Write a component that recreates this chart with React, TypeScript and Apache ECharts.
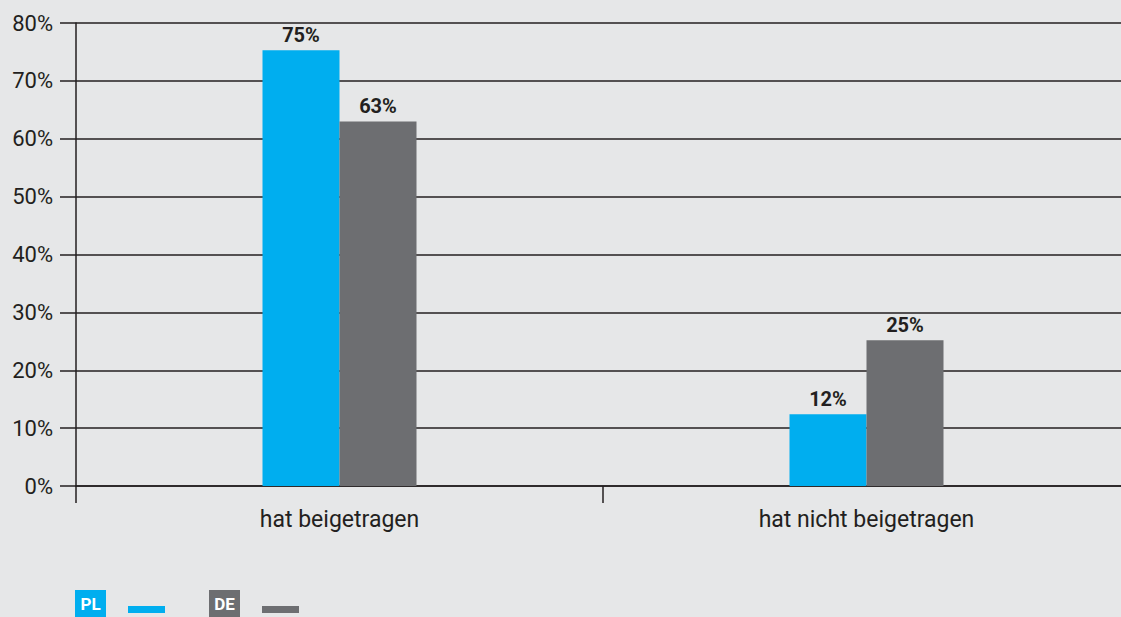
import React, { useEffect, useRef } from "react";
import * as echarts from "echarts";

const categories = ["hat beigetragen", "hat nicht beigetragen"];
const seriesNames = ["PL", "DE"];
const plValues = [75.3, 12.4];
const deValues = [63.0, 25.2];
const yTicks = [0, 10, 20, 30, 40, 50, 60, 70, 80];

const BLUE = "#00aeef";
const GREY = "#6d6e71";
const INK = "#231f20";
const BG = "#e6e7e8";
const FONT = "Roboto, 'Noto Sans', sans-serif";

export default function App() {
  const ref = useRef<HTMLDivElement>(null);
  useEffect(() => {
    if (!ref.current) return;
    const chart = echarts.init(ref.current, undefined, { renderer: "svg" });
    const labelStyle = {
      show: true,
      position: "top" as const,
      distance: 5,
      color: INK,
      fontFamily: FONT,
      fontWeight: "bold" as const,
      fontSize: 20,
      formatter: (p: any) => `${Math.round(p.value)}%`,
    };
    const legendColors = [BLUE, GREY];
    const legendX = [75, 209];
    const graphic: any[] = [];
    seriesNames.forEach((name, i) => {
      graphic.push({
        type: "rect",
        shape: { x: legendX[i], y: 590, width: 31, height: 27 },
        style: { fill: legendColors[i] },
      });
      graphic.push({
        type: "text",
        x: legendX[i] + 15.5,
        y: 604,
        style: {
          text: name,
          fill: "#ffffff",
          font: `bold 17px ${FONT}`,
          textAlign: "center",
          textVerticalAlign: "middle",
        },
      });
      graphic.push({
        type: "rect",
        shape: { x: legendX[i] + 53, y: 606, width: 37, height: 7 },
        style: { fill: legendColors[i] },
      });
    });
    chart.setOption({
      animation: false,
      backgroundColor: BG,
      grid: { left: 76, right: 0, top: 23, bottom: 131, containLabel: false },
      xAxis: {
        type: "category",
        data: categories,
        axisLine: { show: true, lineStyle: { color: INK, width: 1.5 } },
        axisTick: { show: true, length: 17, lineStyle: { color: INK, width: 1.5 } },
        axisLabel: { color: INK, fontFamily: FONT, fontSize: 23, margin: 22 },
      },
      yAxis: {
        type: "value",
        min: yTicks[0],
        max: yTicks[yTicks.length - 1],
        interval: 10,
        axisLine: { show: true, lineStyle: { color: INK, width: 1.5 } },
        axisTick: { show: true, length: 16, lineStyle: { color: INK, width: 1.5 } },
        splitLine: { show: true, lineStyle: { color: INK, width: 1.5 } },
        axisLabel: {
          color: INK,
          fontFamily: FONT,
          fontSize: 22,
          margin: 23,
          formatter: (v: number) => `${v}%`,
        },
      },
      series: [
        {
          name: seriesNames[0],
          type: "bar",
          data: plValues,
          barWidth: 77,
          barGap: "0%",
          itemStyle: { color: BLUE },
          label: labelStyle,
        },
        {
          name: seriesNames[1],
          type: "bar",
          data: deValues,
          barWidth: 77,
          barGap: "0%",
          itemStyle: { color: GREY },
          label: labelStyle,
        },
      ],
      graphic,
    });
    return () => chart.dispose();
  }, []);
  return (
    <div
      style={{
        position: "fixed",
        left: 0,
        top: 0,
        width: 1121,
        height: 617,
        overflow: "hidden",
      }}
    >
      <div ref={ref} style={{ width: 1130, height: 617 }} />
    </div>
  );
}
